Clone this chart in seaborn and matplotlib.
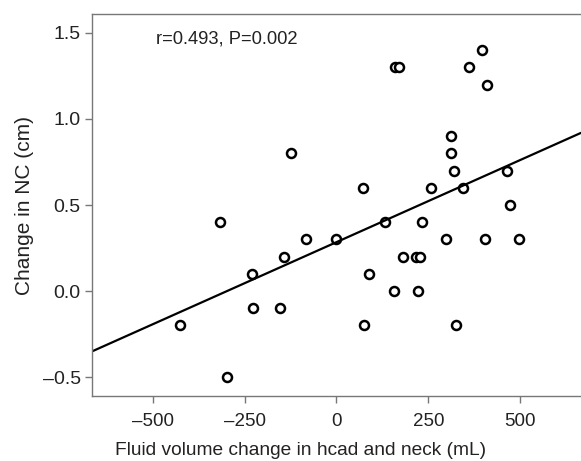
import numpy as np
import pandas as pd
import matplotlib
matplotlib.use("Agg")
import matplotlib.pyplot as plt
import seaborn as sns

# data
fluid_ml = [158, 169, 361, 397, 408, -124, 312, 311, 320, 464, 72, 256, 344, 473,
            -318, 131, 233, -82, 0, 297, 405, 496, -143, 181, 215, 228,
            -229, 89, 157, 222, -227, -153, -426, 74, 324, -297]
nc_cm = [1.3, 1.3, 1.3, 1.4, 1.2, 0.8, 0.9, 0.8, 0.7, 0.7, 0.6, 0.6, 0.6, 0.5,
         0.4, 0.4, 0.4, 0.3, 0.3, 0.3, 0.3, 0.3, 0.2, 0.2, 0.2, 0.2,
         0.1, 0.1, 0.0, 0.0, -0.1, -0.1, -0.2, -0.2, -0.2, -0.5]
x_ticks = [-500, -250, 0, 250, 500]
y_ticks = [-0.5, 0.0, 0.5, 1.0, 1.5]

df = pd.DataFrame({"fluid": fluid_ml, "nc": nc_cm})

sns.set_style("white")
plt.rcParams["font.family"] = ["Liberation Sans", "DejaVu Sans"]
plt.rcParams["axes.unicode_minus"] = True

fig = plt.figure(figsize=(5.81, 4.61), dpi=100)
ax = fig.add_axes([0.1583, 0.141, 0.8417, 0.8286])
ax.set_xlim(-665, 665)
ax.set_ylim(-0.61, 1.61)

sns.regplot(data=df, x="fluid", y="nc", ax=ax, ci=None, truncate=False,
            scatter_kws=dict(s=42, facecolors="white", edgecolors="black",
                             linewidths=1.8, alpha=1),
            line_kws=dict(color="black", lw=1.6))

ax.set_xlim(-665, 665)
ax.set_ylim(-0.61, 1.61)
ax.set_xticks(x_ticks)
ax.set_yticks(y_ticks)
ax.set_xticklabels(["\u2013500", "\u2013250", "0", "250", "500"], fontsize=13.5)
ax.set_yticklabels(["\u20130.5", "0.0", "0.5", "1.0", "1.5"], fontsize=14)

for side in ["left", "top", "bottom"]:
    ax.spines[side].set_color("#777777")
    ax.spines[side].set_linewidth(1.0)
ax.spines["right"].set_visible(False)
ax.tick_params(axis="both", direction="out", length=5, width=1, color="#777777",
               labelcolor="#222222", bottom=True, left=True, pad=3)
ax.tick_params(axis="x", pad=7.5)

ax.set_xlabel("Fluid volume change in hcad and neck (mL)", fontsize=13.8,
              color="#222222")
ax.xaxis.set_label_coords(0.427, -0.12)
ax.set_ylabel("Change in NC (cm)", fontsize=15, color="#222222", labelpad=6)
ax.text(0.131, 0.958, "r=0.493, P=0.002", transform=ax.transAxes,
        fontsize=13.2, color="#222222", va="top", ha="left")

fig.savefig("out.png", dpi=100)
